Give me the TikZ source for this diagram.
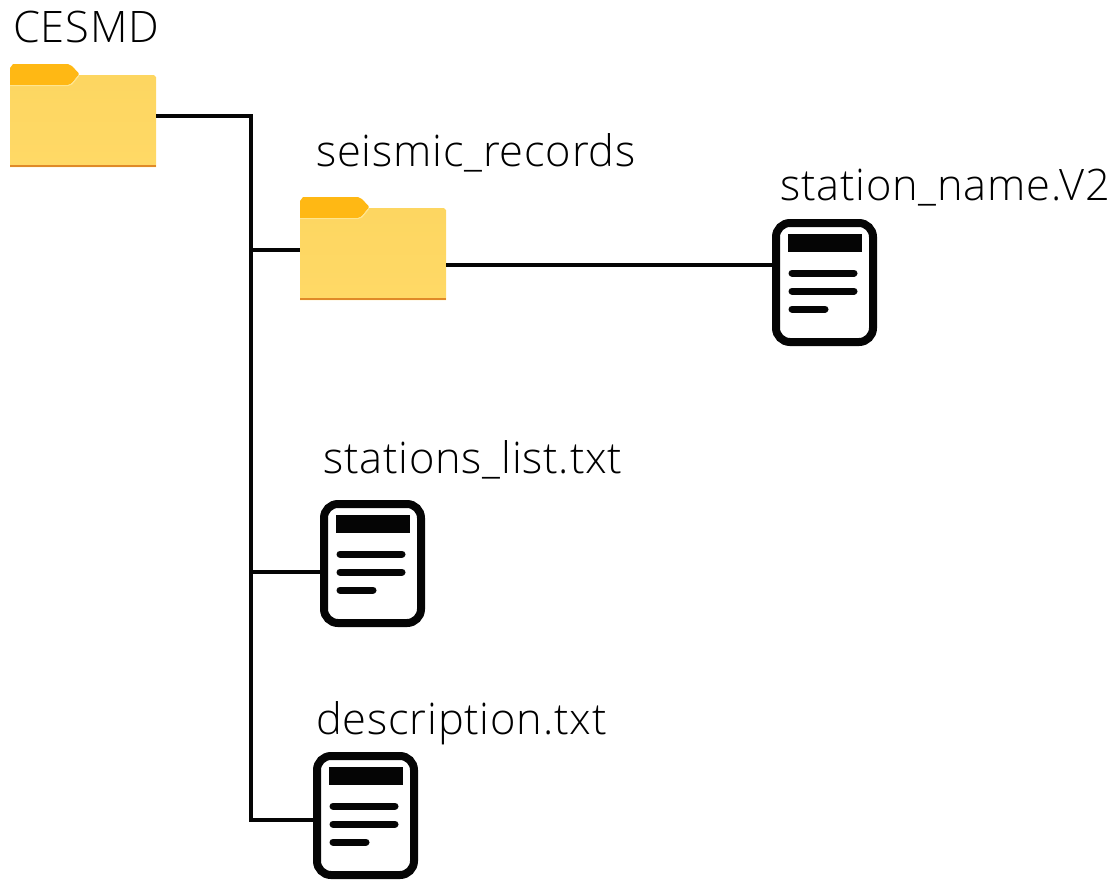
\documentclass[tikz,border=0pt]{standalone}
\usepackage{fontspec}
\setmainfont[LetterSpace=1.8]{Open Sans Light}
\definecolor{foldtop}{HTML}{FDD661}
\definecolor{foldbot}{HTML}{FFD966}
\definecolor{foldtab}{HTML}{FFB814}
\definecolor{foldedge}{HTML}{E08A28}
\definecolor{foldhi}{HTML}{FFE58F}
\definecolor{ink}{HTML}{050505}
\tikzset{
  x=1pt,y=-1pt,
  conn/.style={draw=ink,line width=4pt,line cap=rect},
  lbl/.style={font=\fontsize{43.4}{43.4}\selectfont,anchor=base west,inner sep=0pt,text=black},
  folder/.pic={
    \fill[foldtab] (0,23) -- (0,4) -- (3,0) -- (58,0) -- (62,2) -- (68.5,9) -- (68.5,11) -- (62,19) -- (58,21.5) -- (0,21.5) -- cycle;
    \shade[top color=foldtop,bottom color=foldbot]
      (0,21) -- (58,21) -- (62,19.5) -- (69,11) -- (144,11) -- (146,13) -- (146,103) -- (0,103) -- cycle;
    \draw[foldhi,line width=1pt] (0,21.5) -- (58,21.5) -- (62,20) -- (69,11.5);
    \fill[foldedge] (0,101.3) rectangle (146,103);
    \node[inner sep=0pt,outer sep=0pt,minimum width=146pt,minimum height=103pt] (box) at (73,51.5) {};
  },
  document/.pic={
    \draw[ink,line width=8pt,fill=white,rounded corners=14pt] (4,4) rectangle (101,123);
    \fill[ink] (15.5,15) rectangle (89.5,33);
    \draw[ink,line width=7pt,line cap=round] (20,54) -- (82,54);
    \draw[ink,line width=7pt,line cap=round] (20,72) -- (82,72);
    \draw[ink,line width=7pt,line cap=round] (20,90) -- (53,90);
    \node[inner sep=0pt,outer sep=0pt,minimum width=105pt,minimum height=127pt] (box) at (52.5,63.5) {};
  }
}
\begin{document}
\begin{tikzpicture}
\useasboundingbox (0,0) rectangle (1117,879);
\pic (root) at (10,64) {folder};
\pic (seis) at (300,197) {folder};
\pic (stn) at (772,219) {document};
\pic (lst) at (320,500) {document};
\pic (dsc) at (313,752) {document};
\node[lbl] (a) at (13,42) {CESMD};
\node[lbl] (b) at (316,166) {seismic\_records};
\node[lbl] (c) at (780,200) {station\_name.V2};
\node[lbl] (d) at (323,473) {stations\_list.txt};
\node[lbl] (e) at (316,734) {description.txt};
\coordinate (t0) at (251,116);
\coordinate (t1) at (251,250);
\coordinate (t2) at (251,572);
\coordinate (t3) at (251,820);
\coordinate (r1) at (446,265);
\draw[conn] (t0) -- (t3);
\draw[conn,line cap=butt] (rootbox.east |- t0) -- (t0);
\draw[conn,line cap=butt] (t1) -- (seisbox.west |- t1);
\draw[conn,line cap=butt] (seisbox.east |- r1) -- (stnbox.west |- r1);
\draw[conn,line cap=butt] (t2) -- (lstbox.west |- t2);
\draw[conn,line cap=butt] (t3) -- (dscbox.west |- t3);
\end{tikzpicture}
\end{document}
